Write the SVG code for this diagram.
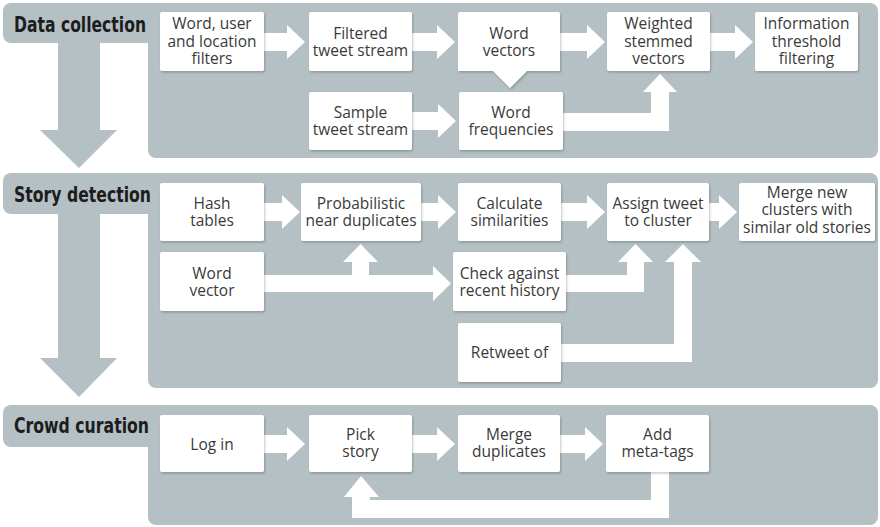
<svg xmlns="http://www.w3.org/2000/svg" width="880" height="527" viewBox="0 0 880 527">
<defs>
<filter id="sh" x="-10%" y="-10%" width="120%" height="130%">
<feDropShadow dx="1" dy="1.5" stdDeviation="1" flood-color="#000" flood-opacity="0.22"/>
</filter>
</defs>
<style>
.bg{fill:#b4c0c4}
.box{fill:#ffffff;filter:url(#sh)}
.arr{fill:#ffffff}
.hd{font-family:"DejaVu Sans Condensed","DejaVu Sans",sans-serif;font-weight:bold;font-size:22px;fill:#1c1c1c}
.t{font-family:"Open Sans","Noto Sans",sans-serif;font-size:15.5px;fill:#3a3a3a;text-anchor:middle}
</style>
<rect width="880" height="527" fill="#ffffff"/>

<g id="sections">
<g id="sec-data">
<rect class="bg" x="3" y="3" width="165" height="40" rx="8"/>
<rect class="bg" x="148" y="3" width="730" height="155" rx="8"/>
<path class="bg" d="M58,40 H100 V130 H117 L79,168 L40,130 H58 Z"/>
<text class="hd" x="14" y="32" textLength="132" lengthAdjust="spacingAndGlyphs">Data collection</text>
</g>
<g id="sec-story">
<rect class="bg" x="3" y="173" width="165" height="41" rx="8"/>
<rect class="bg" x="148" y="173" width="730" height="215" rx="8"/>
<path class="bg" d="M58,210 H100 V358 H117 L79,397 L40,358 H58 Z"/>
<text class="hd" x="14" y="202" textLength="137" lengthAdjust="spacingAndGlyphs">Story detection</text>
</g>
<g id="sec-crowd">
<rect class="bg" x="3" y="405" width="165" height="42" rx="8"/>
<rect class="bg" x="148" y="405" width="730" height="120" rx="8"/>
<text class="hd" x="14" y="433" textLength="135" lengthAdjust="spacingAndGlyphs">Crowd curation</text>
</g>
</g>

<g id="connectors">
<path class="arr" d="M264,33 H287 V25 L305,42 L287,59 V51 H264 Z"/>
<path class="arr" d="M412,33 H437 V25 L455,42 L437,59 V51 H412 Z"/>
<path class="arr" d="M560,33 H587 V25 L605,42 L587,59 V51 H560 Z"/>
<path class="arr" d="M710,33 H735 V25 L753,42 L735,59 V51 H710 Z"/>
<path class="arr" d="M412,112 H438 V104 L456,121 L438,138 V130 H412 Z"/>
<path class="arr" d="M563,113 H651 V92 H643 L660,74 L677,92 H669 V131 H563 Z"/>

<path class="arr" d="M264,203 H282 V195 L300,212 L282,229 V221 H264 Z"/>
<path class="arr" d="M421,203 H438 V195 L456,212 L438,229 V221 H421 Z"/>
<path class="arr" d="M561,203 H587 V195 L605,212 L587,229 V221 H561 Z"/>
<path class="arr" d="M709,203 H719 V195 L737,212 L719,229 V221 H709 Z"/>
<path class="arr" d="M264,275 H352 V262 H343 L360.5,244 L378,262 H369 V275 H433 V266 L451,283.5 L433,301 V292 H264 Z"/>
<path class="arr" d="M566,275 H627 V262 H618 L635.5,244 L653,262 H644 V292 H566 Z"/>
<path class="arr" d="M561,344 H674 V262 H665 L683,244 L701,262 H692 V362 H561 Z"/>

<path class="arr" d="M264,435 H287 V427 L305,444 L287,461 V453 H264 Z"/>
<path class="arr" d="M412,435 H437 V427 L455,444 L437,461 V453 H412 Z"/>
<path class="arr" d="M560,435 H585 V427 L603,444 L585,461 V453 H560 Z"/>
<path class="arr" d="M651,470 H669 V518 H352 V497 H344 L361,476 L379,497 H370 V500 H651 Z"/>
</g>

<g id="n-filters"><rect class="box" x="160" y="12" width="104" height="59" rx="2"/>
<text class="t" x="212"><tspan x="212" y="29">Word, user</tspan><tspan x="212" y="47">and location</tspan><tspan x="212" y="64">filters</tspan></text></g>
<g id="n-filtered"><rect class="box" x="309" y="12" width="103" height="59" rx="2"/>
<text class="t"><tspan x="360.5" y="39">Filtered</tspan><tspan x="360.5" y="56">tweet stream</tspan></text></g>
<g id="n-wordvectors"><path class="box" d="M460,12 H558 Q560,12 560,14 V71 H527 L510,88 L493,71 H458 V14 Q458,12 460,12 Z"/>
<text class="t"><tspan x="509" y="39">Word</tspan><tspan x="509" y="56">vectors</tspan></text></g>
<g id="n-weighted"><rect class="box" x="607" y="12" width="103" height="59" rx="2"/>
<text class="t"><tspan x="658.5" y="29">Weighted</tspan><tspan x="658.5" y="47">stemmed</tspan><tspan x="658.5" y="64">vectors</tspan></text></g>
<g id="n-info"><rect class="box" x="755" y="12" width="103" height="59" rx="2"/>
<text class="t"><tspan x="806.5" y="29">Information</tspan><tspan x="806.5" y="47">threshold</tspan><tspan x="806.5" y="64">filtering</tspan></text></g>
<g id="n-sample"><rect class="box" x="309" y="92" width="103" height="58" rx="2"/>
<text class="t"><tspan x="360.5" y="118">Sample</tspan><tspan x="360.5" y="135">tweet stream</tspan></text></g>
<g id="n-wordfreq"><rect class="box" x="459" y="92" width="104" height="58" rx="2"/>
<text class="t"><tspan x="511" y="118">Word</tspan><tspan x="511" y="135">frequencies</tspan></text></g>

<g id="n-hash"><rect class="box" x="160" y="183" width="104" height="58" rx="2"/>
<text class="t"><tspan x="212" y="209">Hash</tspan><tspan x="212" y="226">tables</tspan></text></g>
<g id="n-wordvector"><rect class="box" x="160" y="252" width="104" height="59" rx="2"/>
<text class="t"><tspan x="212" y="279">Word</tspan><tspan x="212" y="296">vector</tspan></text></g>
<g id="n-prob"><rect class="box" x="301" y="183" width="120" height="58" rx="2"/>
<text class="t"><tspan x="361" y="209">Probabilistic</tspan><tspan x="361" y="226">near duplicates</tspan></text></g>
<g id="n-calc"><rect class="box" x="458" y="183" width="103" height="58" rx="2"/>
<text class="t"><tspan x="509.5" y="209">Calculate</tspan><tspan x="509.5" y="226">similarities</tspan></text></g>
<g id="n-check"><rect class="box" x="453" y="252" width="113" height="59" rx="2"/>
<text class="t"><tspan x="509.5" y="279">Check against</tspan><tspan x="509.5" y="296">recent history</tspan></text></g>
<g id="n-retweet"><rect class="box" x="458" y="323" width="103" height="59" rx="2"/>
<text class="t" x="509.5" y="358">Retweet of</text></g>
<g id="n-assign"><rect class="box" x="607" y="183" width="102" height="58" rx="2"/>
<text class="t"><tspan x="658" y="209">Assign tweet</tspan><tspan x="658" y="226">to cluster</tspan></text></g>
<g id="n-mergenew"><rect class="box" x="739" y="183" width="136" height="58" rx="2"/>
<text class="t"><tspan x="807" y="198">Merge new</tspan><tspan x="807" y="215">clusters with</tspan><tspan x="807" y="233">similar old stories</tspan></text></g>

<g id="n-login"><rect class="box" x="160" y="415" width="104" height="57" rx="2"/>
<text class="t" x="212" y="450">Log in</text></g>
<g id="n-pick"><rect class="box" x="309" y="415" width="103" height="57" rx="2"/>
<text class="t"><tspan x="360.5" y="440">Pick</tspan><tspan x="360.5" y="457">story</tspan></text></g>
<g id="n-mergedup"><rect class="box" x="458" y="415" width="102" height="57" rx="2"/>
<text class="t"><tspan x="509" y="440">Merge</tspan><tspan x="509" y="457">duplicates</tspan></text></g>
<g id="n-meta"><rect class="box" x="606" y="415" width="103" height="57" rx="2"/>
<text class="t"><tspan x="657.5" y="440">Add</tspan><tspan x="657.5" y="457">meta-tags</tspan></text></g>
</svg>
